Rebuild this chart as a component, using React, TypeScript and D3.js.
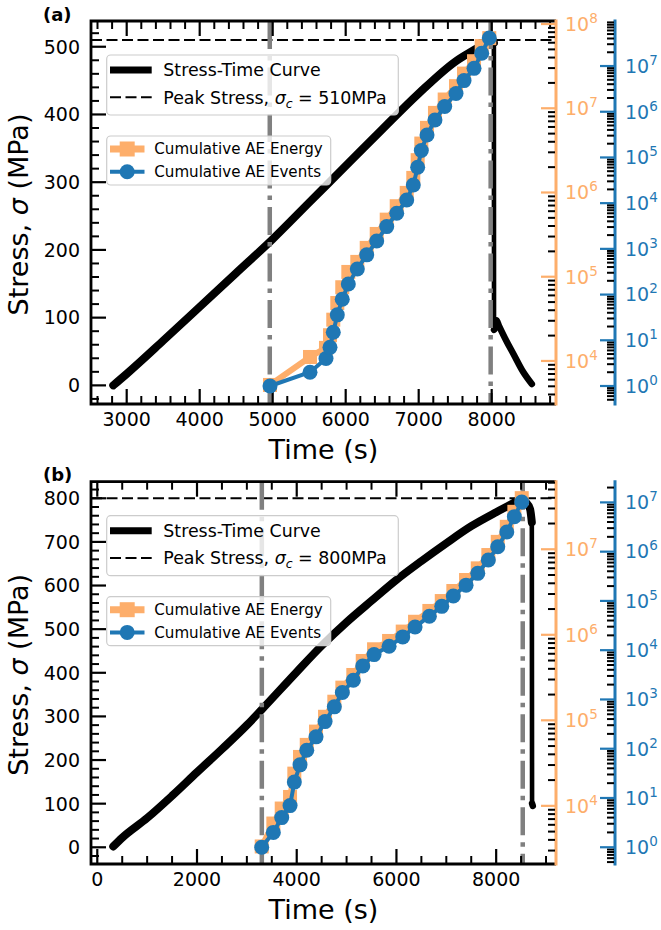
import * as d3 from 'd3';

// ---------- panel (a) ----------
const stressTimeA = [2816, 3000, 3500, 4000, 4500, 5000, 5500, 6000, 6500, 7000, 7500, 7800, 7950, 8010, 8030, 8032, 8045, 8065, 8100, 8200, 8300, 8430, 8550];
const stressA = [0, 17, 66, 116, 166, 216, 270, 324, 378, 431, 478, 498, 508, 511, 506, 82, 84, 96, 88, 66, 46, 20, 2];
const aeTimeA = [4963, 5511, 5730, 5785, 5830, 5885, 5953, 6036, 6159, 6288, 6425, 6562, 6699, 6836, 6926, 6986, 7036, 7114, 7223, 7356, 7511, 7621, 7758, 7863, 7967];
const aeEventsA = [1, 2, 4, 7, 15, 36, 79, 170, 363, 740, 1490, 3070, 6000, 11700, 25000, 61000, 142000, 310000, 660000, 1300000, 2500000, 4800000, 8900000, 19000000, 41000000];
const aeEnergyA = [5190, 11150, 14300, 20200, 30900, 48800, 75000, 114000, 150000, 220000, 322000, 476000, 687000, 989000, 1490000, 2420000, 3810000, 5850000, 8810000, 12700000, 18300000, 25800000, 36200000, 54700000, 68000000];
const vlinesA = [4960, 7986];
const peakA = 510;

// ---------- panel (b) ----------
const stressTimeB = [321, 500, 1000, 1500, 2000, 2500, 3000, 3300, 4000, 4500, 5000, 5500, 6000, 6500, 7000, 7500, 8000, 8300, 8480, 8600, 8680, 8715, 8720, 8735];
const stressB = [2, 22, 67, 118, 172, 225, 280, 316, 402, 462, 516, 565, 613, 656, 697, 736, 768, 786, 797, 790, 775, 745, 100, 95];
const aeTimeB = [3298, 3531, 3699, 3866, 3952, 4066, 4201, 4387, 4568, 4754, 4915, 5135, 5324, 5551, 5852, 6126, 6373, 6660, 6909, 7141, 7396, 7631, 7843, 8032, 8213, 8365, 8513];
const aeEventsB = [1, 2, 4, 7, 21, 47, 93, 174, 355, 708, 1380, 2450, 4790, 8130, 12000, 18600, 29500, 49000, 77600, 126000, 209000, 363000, 676000, 1260000, 2510000, 5130000, 10200000];
const aeEnergyB = [3350, 6210, 9300, 12700, 23800, 37300, 51600, 73800, 110000, 165000, 241000, 339000, 494000, 677000, 847000, 1090000, 1420000, 1900000, 2480000, 3250000, 4370000, 5980000, 8560000, 12200000, 18300000, 27400000, 39600000];
const vlinesB = [3300, 8533];
const peakB = 800;

const W = 661;
const H = 930;
const L = 91;
const R = 556;
const R2 = 615; // offset spine for AE events
const ORANGE = '#fdae6b';
const BLUE = '#1f77b4';
const FONT = "'DejaVu Sans', sans-serif";

const panels = [
  {
    label: '(a)', top: 21, bottom: 404,
    xDomain: [2511, 8881], xMajor: d3.range(3000, 8001, 1000), xMinorStep: 200,
    yDomain: [-27.5, 538], yMajor: d3.range(0, 501, 100), yMinorStep: 20,
    eDomain: [10 ** 3.489, 10 ** 8.036], nDomain: [10 ** -0.394, 10 ** 7.985],
    time: stressTimeA, stress: stressA, aeTime: aeTimeA, events: aeEventsA, energy: aeEnergyA,
    vlines: vlinesA, peak: peakA,
  },
  {
    label: '(b)', top: 481.7, bottom: 864,
    xDomain: [-126, 9200], xMajor: d3.range(0, 8001, 2000), xMinorStep: 500,
    yDomain: [-38.3, 838], yMajor: d3.range(0, 801, 100), yMinorStep: 20,
    eDomain: [10 ** 3.32, 10 ** 7.79], nDomain: [10 ** -0.34, 10 ** 7.42],
    time: stressTimeB, stress: stressB, aeTime: aeTimeB, events: aeEventsB, energy: aeEnergyB,
    vlines: vlinesB, peak: peakB,
  },
];

function minorTicks([a, b], step, majors) {
  const out = [];
  for (let v = Math.ceil(a / step) * step; v <= b; v += step) {
    if (!majors.some((m) => Math.abs(m - v) < 1e-6)) out.push(v);
  }
  return out;
}

function logTicks([a, b]) {
  const out = [];
  for (let k = Math.floor(Math.log10(a)); k <= Math.ceil(Math.log10(b)); k++) {
    for (let m = 1; m < 10; m++) {
      const v = m * 10 ** k;
      if (v >= a && v <= b) out.push({ v, k, major: m === 1 });
    }
  }
  return out;
}

function PowLabel({ x, y, k, color }) {
  return (
    <text x={x} y={y} dy="0.36em" fill={color} fontSize={19}>
      10<tspan dy={-8} fontSize={13.5}>{k}</tspan>
    </text>
  );
}

function Panel({ p }) {
  const x = d3.scaleLinear().domain(p.xDomain).range([L, R]);
  const y = d3.scaleLinear().domain(p.yDomain).range([p.bottom, p.top]);
  const yE = d3.scaleLog().domain(p.eDomain).range([p.bottom, p.top]);
  const yN = d3.scaleLog().domain(p.nDomain).range([p.bottom, p.top]);

  const pts = p.time.map((t, i) => [t, p.stress[i]]);
  // split the curve at the fracture drop (largest single fall)
  let drop = 0;
  for (let i = 1; i < pts.length; i++) {
    if (pts[i - 1][1] - pts[i][1] > pts[drop][1] - pts[drop + 1][1]) drop = i - 1;
  }
  const line = d3.line().x((d) => x(d[0])).y((d) => y(d[1]));
  const smooth = d3.line().x((d) => x(d[0])).y((d) => y(d[1])).curve(d3.curveMonotoneX);
  const ae = p.aeTime.map((t, i) => ({ t, e: p.energy[i], n: p.events[i] }));
  const eLine = d3.line().x((d) => x(d.t)).y((d) => yE(d.e));
  const nLine = d3.line().x((d) => x(d.t)).y((d) => yN(d.n));

  const xMinor = minorTicks(p.xDomain, p.xMinorStep, p.xMajor);
  const yMinor = minorTicks(p.yDomain, p.yMinorStep, p.yMajor);
  const eTicks = logTicks(p.eDomain);
  const nTicks = logTicks(p.nDomain);
  const midY = (p.top + p.bottom) / 2;

  const b1 = { x: 106.7, y: p.top + 34, w: 291.6, h: 60 };
  const b2 = { x: 106.7, y: p.top + 115, w: 224, h: 49 };

  return (
    <g>
      {/* stress-time curve */}
      <path d={line(pts)} fill="none" stroke="#000" strokeWidth={4.6} strokeLinejoin="round" />
      <path d={smooth(pts.slice(0, drop + 1))} fill="none" stroke="#000" strokeWidth={8} strokeLinecap="round" strokeLinejoin="round" />
      <path d={smooth(pts.slice(drop + 1))} fill="none" stroke="#000" strokeWidth={6.5} strokeLinecap="round" strokeLinejoin="round" />
      {/* peak stress */}
      <line x1={L} x2={R} y1={y(p.peak)} y2={y(p.peak)} stroke="#000" strokeWidth={2} strokeDasharray="11 4.5" />
      {p.vlines.map((t) => (
        <line key={t} x1={x(t)} x2={x(t)} y1={p.top} y2={p.bottom} stroke="#808080" strokeWidth={4.5} strokeDasharray="28 7 4.5 7" />
      ))}

      {/* spines and ticks of main axes */}
      {p.xMajor.map((v) => (
        <g key={'xm' + v}>
          <line x1={x(v)} x2={x(v)} y1={p.bottom} y2={p.bottom - 15} stroke="#000" strokeWidth={2.2} />
          <line x1={x(v)} x2={x(v)} y1={p.top} y2={p.top + 15} stroke="#000" strokeWidth={2.2} />
          <text x={x(v)} y={p.bottom + 22} textAnchor="middle" fontSize={19}>{v}</text>
        </g>
      ))}
      {xMinor.map((v) => (
        <g key={'xn' + v}>
          <line x1={x(v)} x2={x(v)} y1={p.bottom} y2={p.bottom - 8} stroke="#000" strokeWidth={2} />
          <line x1={x(v)} x2={x(v)} y1={p.top} y2={p.top + 8} stroke="#000" strokeWidth={2} />
        </g>
      ))}
      {p.yMajor.map((v) => (
        <g key={'ym' + v}>
          <line x1={L} x2={L + 15} y1={y(v)} y2={y(v)} stroke="#000" strokeWidth={2.2} />
          <text x={80} y={y(v)} dy="0.36em" textAnchor="end" fontSize={19}>{v}</text>
        </g>
      ))}
      {yMinor.map((v) => (
        <line key={'yn' + v} x1={L} x2={L + 8} y1={y(v)} y2={y(v)} stroke="#000" strokeWidth={2} />
      ))}
      <path d={`M${R},${p.top}H${L}V${p.bottom}H${R}`} fill="none" stroke="#000" strokeWidth={2.8} />

      {/* energy axis (orange) */}
      <line x1={R} x2={R} y1={p.top - 1.4} y2={p.bottom + 1.4} stroke={ORANGE} strokeWidth={3} />
      {eTicks.map((t) =>
        t.major ? (
          <g key={'e' + t.v}>
            <line x1={R} x2={R - 15} y1={yE(t.v)} y2={yE(t.v)} stroke={ORANGE} strokeWidth={2.2} />
            <PowLabel x={R + 9} y={yE(t.v)} k={t.k} color={ORANGE} />
          </g>
        ) : (
          <line key={'e' + t.v} x1={R - 1} x2={R - 8} y1={yE(t.v)} y2={yE(t.v)} stroke="#000" strokeWidth={2} />
        )
      )}

      {/* events axis (blue, offset) */}
      <line x1={R2} x2={R2} y1={p.top - 1.4} y2={p.bottom + 1.4} stroke={BLUE} strokeWidth={3} />
      {nTicks.map((t) =>
        t.major ? (
          <g key={'n' + t.v}>
            <line x1={R2} x2={R2 - 15} y1={yN(t.v)} y2={yN(t.v)} stroke={BLUE} strokeWidth={2.2} />
            <PowLabel x={R2 + 10} y={yN(t.v)} k={t.k} color={BLUE} />
          </g>
        ) : (
          <line key={'n' + t.v} x1={R2 - 1} x2={R2 - 8} y1={yN(t.v)} y2={yN(t.v)} stroke="#000" strokeWidth={2} />
        )
      )}

      {/* cumulative AE energy and events */}
      <path d={eLine(ae)} fill="none" stroke={ORANGE} strokeWidth={6} strokeLinejoin="round" />
      {ae.map((d) => (
        <rect key={'es' + d.t} x={x(d.t) - 7} y={yE(d.e) - 7} width={14} height={14} fill={ORANGE} />
      ))}
      <path d={nLine(ae)} fill="none" stroke={BLUE} strokeWidth={4} strokeLinejoin="round" />
      {ae.map((d) => (
        <circle key={'nc' + d.t} cx={x(d.t)} cy={yN(d.n)} r={7.5} fill={BLUE} />
      ))}

      {/* legends */}
      <rect x={b1.x} y={b1.y} width={b1.w} height={b1.h} rx={4} fill="#fff" fillOpacity={0.8} stroke="#cccccc" strokeWidth={1.2} />
      <line x1={110} x2={151.7} y1={b1.y + 15} y2={b1.y + 15} stroke="#000" strokeWidth={7} />
      <text x={163.3} y={b1.y + 15} dy="0.36em" fontSize={17.4}>Stress-Time Curve</text>
      <line x1={110} x2={151.7} y1={b1.y + 42.3} y2={b1.y + 42.3} stroke="#000" strokeWidth={2} strokeDasharray="11 4.5" />
      <text x={163.3} y={b1.y + 42.3} dy="0.36em" fontSize={17.4}>
        Peak Stress, <tspan fontStyle="italic">σ</tspan>
        <tspan fontStyle="italic" fontSize={12.5} dy={4}>c</tspan>
        <tspan dy={-4}>{` = ${p.peak}MPa`}</tspan>
      </text>

      <rect x={b2.x} y={b2.y} width={b2.w} height={b2.h} rx={4} fill="#fff" fillOpacity={0.8} stroke="#cccccc" strokeWidth={1.2} />
      <line x1={110} x2={144.5} y1={b2.y + 13} y2={b2.y + 13} stroke={ORANGE} strokeWidth={7} />
      <rect x={127.2 - 7.5} y={b2.y + 13 - 7.5} width={15} height={15} fill={ORANGE} />
      <text x={154.3} y={b2.y + 13} dy="0.36em" fontSize={15.1}>Cumulative AE Energy</text>
      <line x1={110} x2={144.5} y1={b2.y + 35.7} y2={b2.y + 35.7} stroke={BLUE} strokeWidth={4} />
      <circle cx={127.2} cy={b2.y + 35.7} r={7.5} fill={BLUE} />
      <text x={154.3} y={b2.y + 35.7} dy="0.36em" fontSize={15.1}>Cumulative AE Events</text>

      {/* titles */}
      <text x={43} y={p.top - 0.3} fontSize={18} fontWeight="bold">{p.label}</text>
      <text x={(L + R) / 2} y={p.bottom + 55} textAnchor="middle" fontSize={27}>Time (s)</text>
      <text transform={`translate(28.3,${midY + 2}) rotate(-90)`} textAnchor="middle" fontSize={27}>
        Stress, <tspan fontStyle="italic">σ</tspan> (MPa)
      </text>
    </g>
  );
}

export default function App() {
  return (
    <svg width={W} height={H} style={{ position: 'absolute', left: 0, top: 0 }} fontFamily={FONT}>
      <rect width={W} height={H} fill="#fff" />
      {panels.map((p) => (
        <Panel key={p.label} p={p} />
      ))}
    </svg>
  );
}
